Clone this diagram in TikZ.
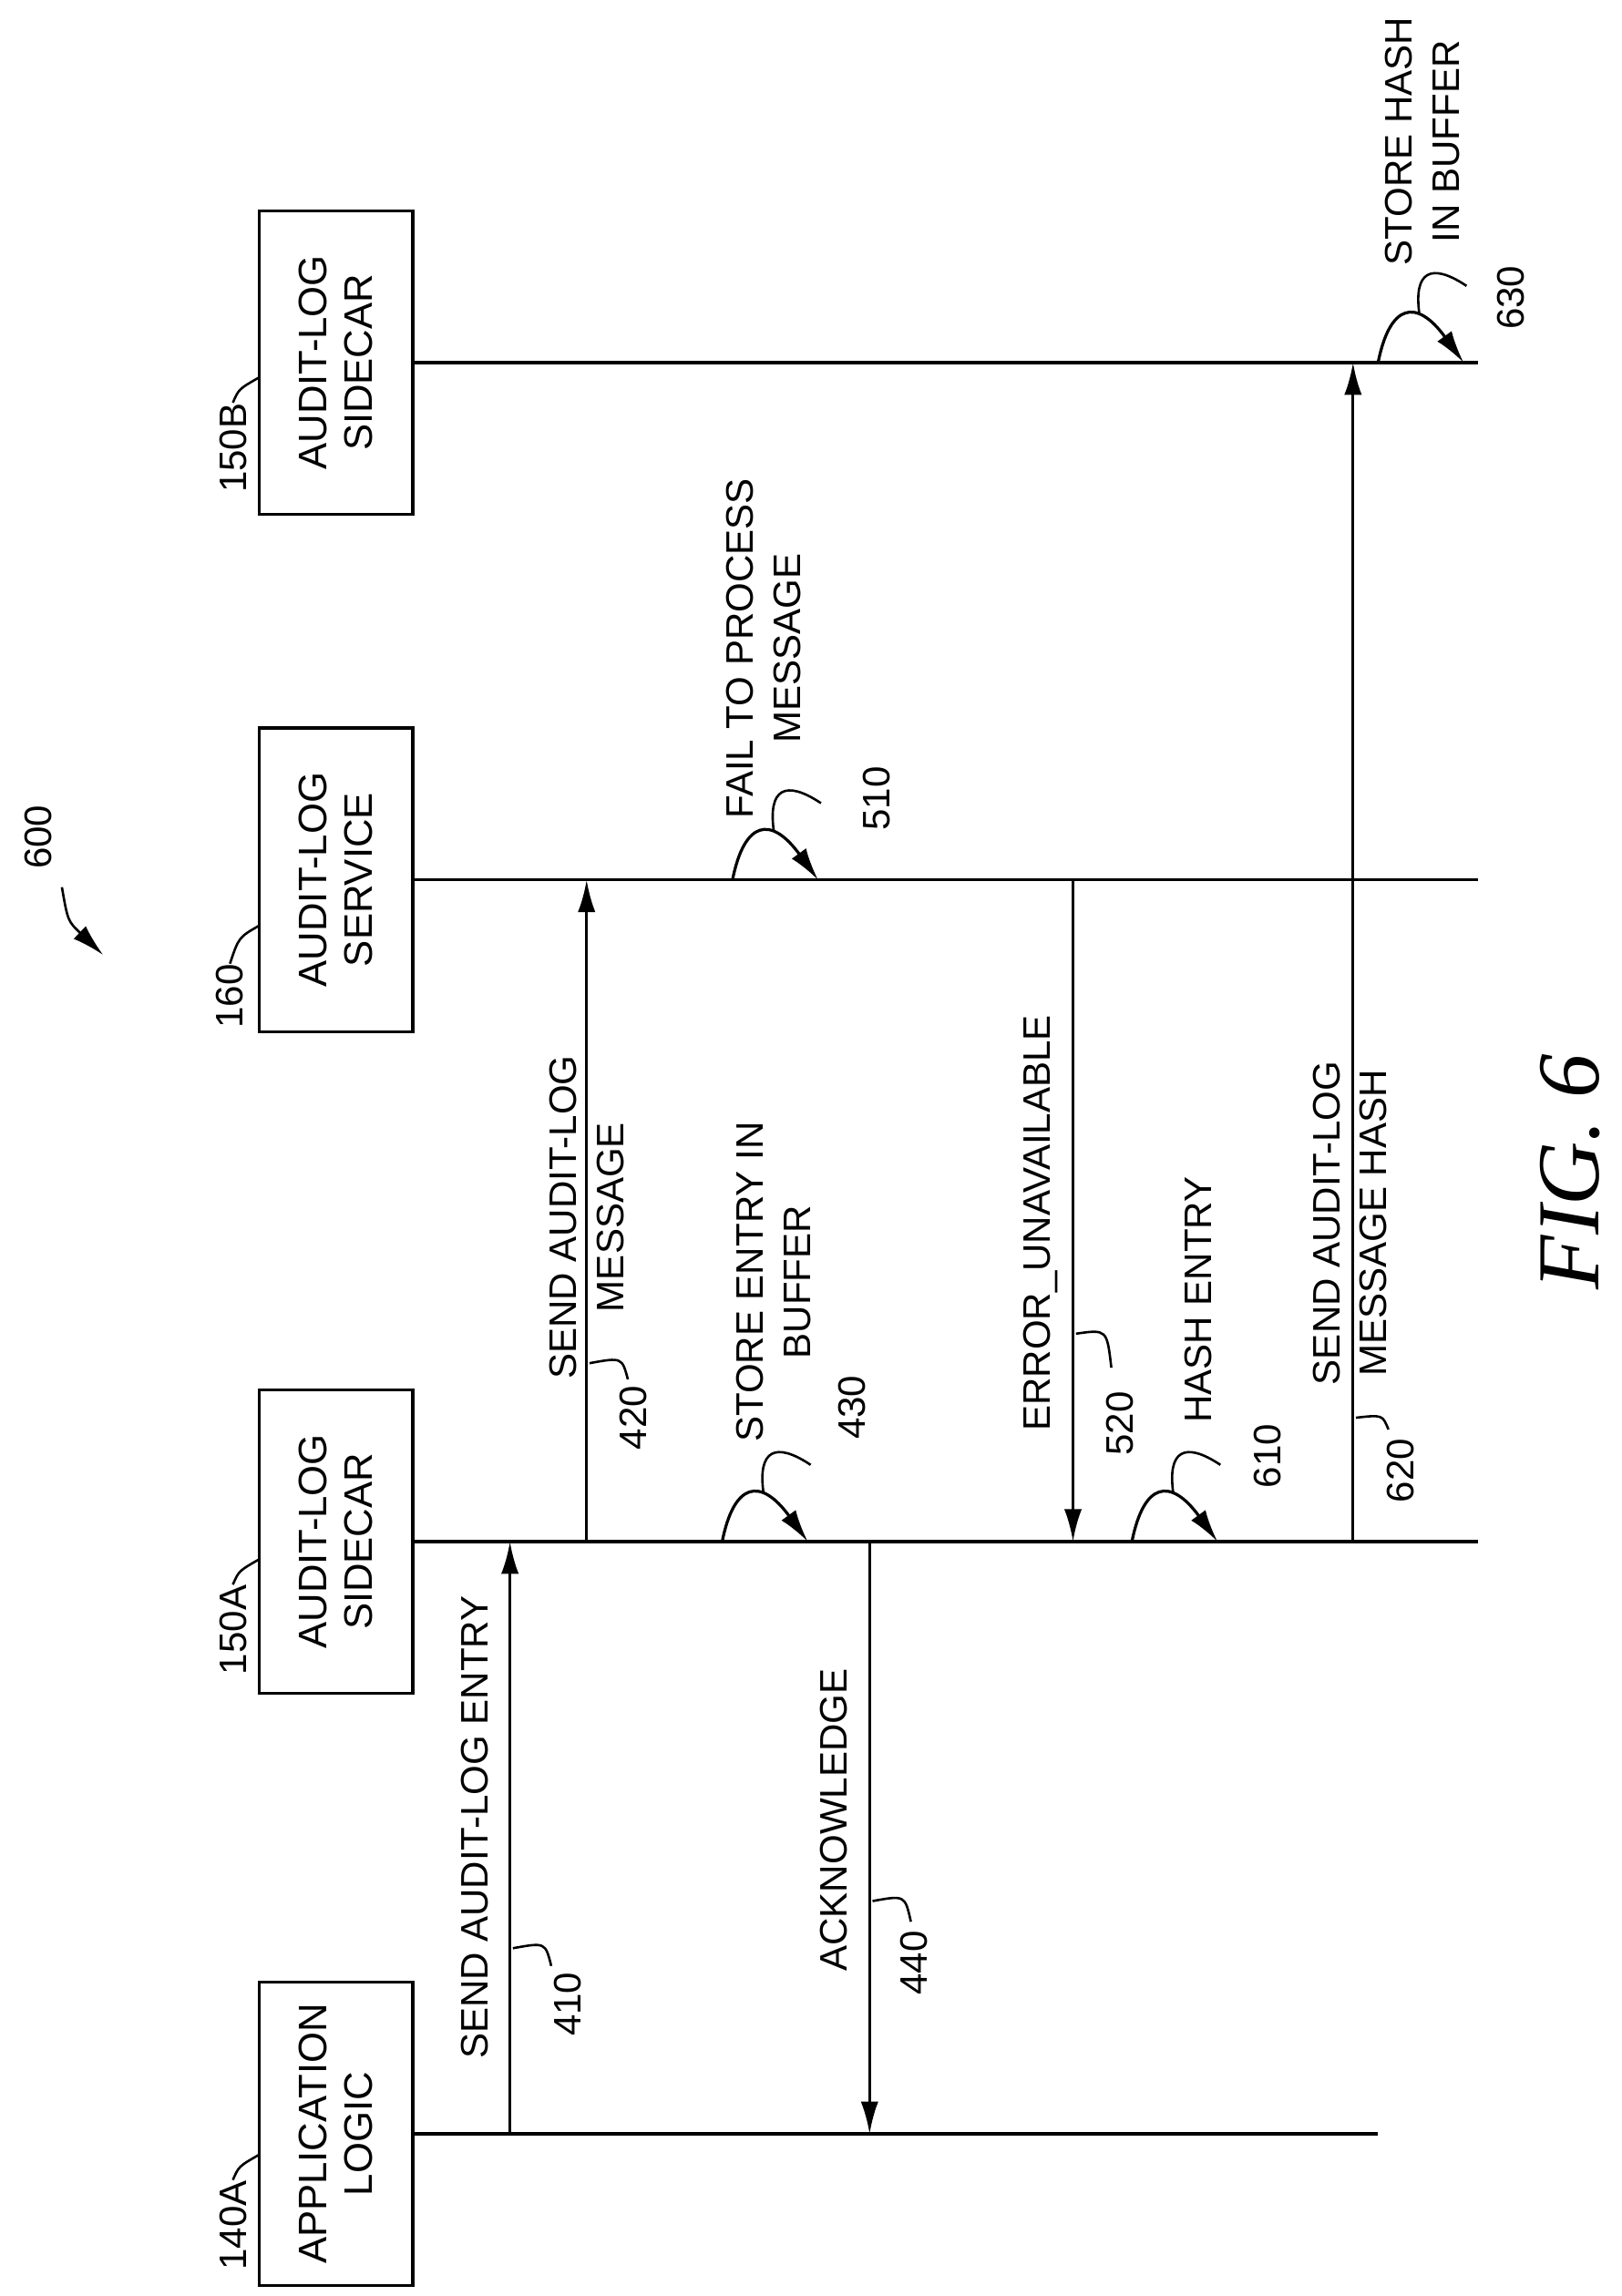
\documentclass[tikz,border=0pt]{standalone}
\usepackage{fontspec}
\setmainfont{Liberation Sans}
\newfontfamily\figfont{Liberation Serif}
\usetikzlibrary{arrows.meta}
\tikzset{
  actor/.style={draw,line width=1pt,rotate=90,align=center,minimum width=103pt,minimum height=52pt,inner sep=0pt,font=\fontsize{13.5}{15.5}\selectfont},
  lbl/.style={rotate=90,align=center,inner sep=0pt,font=\fontsize{13}{16}\selectfont},
  life/.style={line width=1.1pt},
  msg/.style={line width=1pt,-{Latex[length=11pt,width=6pt]}},
  lead/.style={line width=0.8pt},
}
\begin{document}
\begin{tikzpicture}[x=0.5pt,y=-0.5pt]
\useasboundingbox (0,0) rectangle (1100,1558);
% actors
\node[actor] (app)  at (228,1448) {APPLICATION\\LOGIC};
\node[actor] (sca)  at (228,1046) {AUDIT-LOG\\SIDECAR};
\node[actor] (svc)  at (228,597)  {AUDIT-LOG\\SERVICE};
\node[actor] (scb)  at (228,246)  {AUDIT-LOG\\SIDECAR};
\node[lbl] (n140) at (158,1510) {140A};
\node[lbl] (n150a) at (158,1106) {150A};
\node[lbl] (n160) at (156,676) {160};
\node[lbl] (n150b) at (158,304) {150B};
\draw[lead] (n140.east) .. controls (162,1470) .. (176,1462);
\draw[lead] (n150a.east) .. controls (162,1066) .. (176,1058);
\draw[lead] (n160.east) .. controls (162,636) .. (176,628);
\draw[lead] (n150b.east) .. controls (162,264) .. (176,256);
% lifelines
\coordinate (appE) at (935,1448);
\coordinate (scaE) at (1003,1046);
\coordinate (svcE) at (1003,597);
\coordinate (scbE) at (1003,246);
\draw[life] (app.south) -- (appE);
\draw[life] (sca.south) -- (scaE);
\draw[life] (svc.south) -- (svcE);
\draw[life] (scb.south) -- (scbE);
% message points
\coordinate (a410) at (346,1448); \coordinate (b410) at (346,1046);
\coordinate (a420) at (398,1046); \coordinate (b420) at (398,597);
\coordinate (a440) at (590,1046); \coordinate (b440) at (590,1448);
\coordinate (a520) at (728,597);  \coordinate (b520) at (728,1046);
\coordinate (a620) at (918,1046); \coordinate (b620) at (918,246);
\draw[msg] (a410) -- (b410);
\draw[msg] (a420) -- (b420);
\draw[msg] (a440) -- (b440);
\draw[msg] (a520) -- (b520);
\draw[msg] (a620) -- (b620);
% self steps
\foreach \x/\y/\n in {490/1046/430, 497/597/510, 768/1046/610, 935/246/630}{
  \coordinate (s\n) at (\x,\y);
  \coordinate (t\n) at (\x+58,\y);
  \coordinate (p\n) at (\x+28,\y-33);
  \draw[msg] (s\n) .. controls (\x+8,\y-40) and (\x+26,\y-44) .. (t\n);
  \draw[lead] (p\n) .. controls (\x+24,\y-62) and (\x+36,\y-68) .. (\x+60,\y-52);
}
% texts
\node[lbl] (t410l) at (322,1240) {SEND AUDIT-LOG ENTRY};
\node[lbl] (t420l) at (398,826) {SEND AUDIT-LOG\\MESSAGE};
\node[lbl] (t430l) at (525,870) {STORE ENTRY IN\\BUFFER};
\node[lbl] (t440l) at (566,1235) {ACKNOWLEDGE};
\node[lbl] (t510l) at (518,440) {FAIL TO PROCESS\\MESSAGE};
\node[lbl] (t520l) at (706,830) {ERROR\_UNAVAILABLE};
\node[lbl] (t610l) at (813,882) {HASH ENTRY};
\node[lbl] (t620l) at (916,830) {SEND AUDIT-LOG\\MESSAGE HASH};
\node[lbl] (t630l) at (965,96) {STORE HASH\\IN BUFFER};
% numbers
\node[lbl] (n410) at (385,1360) {410};
\node[lbl] (n420) at (430,962) {420};
\node[lbl] (n430) at (578,955) {430};
\node[lbl] (n440) at (620,1332) {440};
\node[lbl] (n510) at (595,542) {510};
\node[lbl] (n520) at (760,966) {520};
\node[lbl] (n610) at (860,988) {610};
\node[lbl] (n620) at (950,998) {620};
\node[lbl] (n630) at (1025,202) {630};
\draw[lead] (348,1322) .. controls (370,1318) .. (374,1334);
\draw[lead] (400,925) .. controls (422,921) .. (426,936);
\draw[lead] (592,1290) .. controls (614,1286) .. (618,1304);
\draw[lead] (730,905) .. controls (751,902) .. (754,928);
\draw[lead] (920,962) .. controls (938,960) .. (942,970);
% figure number
\node[lbl,font=\figfont\itshape\fontsize{30}{32}\selectfont] (fig) at (1065,795) {FIG. 6};
\node[lbl] (n600) at (26,568) {600};
\draw[msg,line width=0.8pt] (42,602) .. controls (46,625) .. (70,648);
\end{tikzpicture}
\end{document}
